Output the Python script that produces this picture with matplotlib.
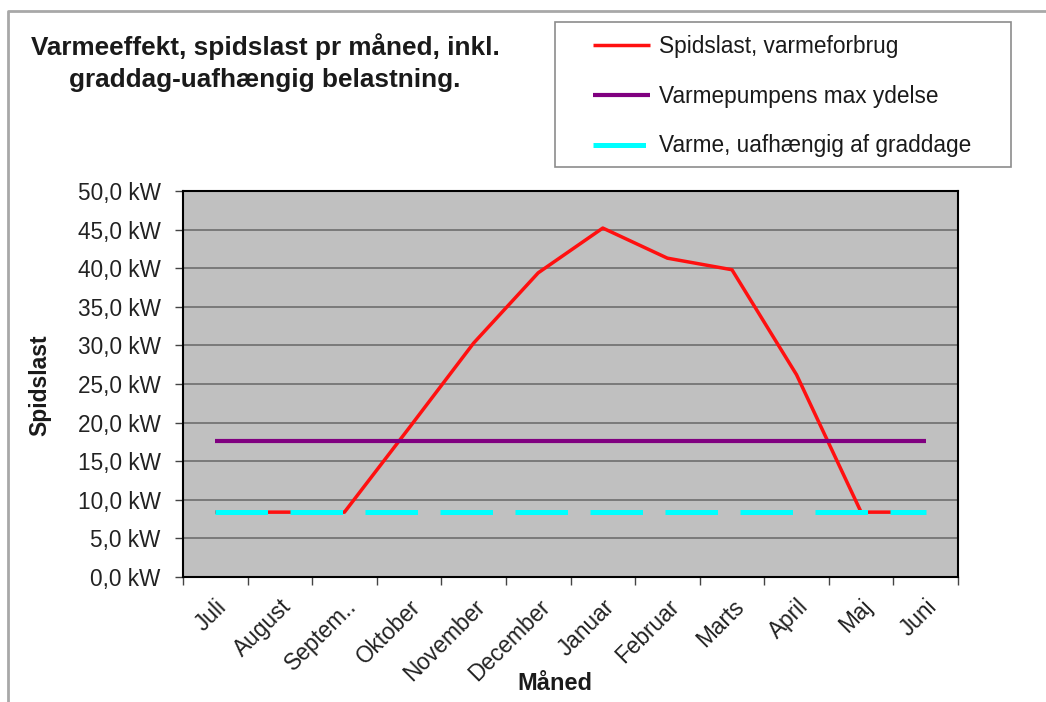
import matplotlib
matplotlib.use("Agg")
import matplotlib.pyplot as plt
from matplotlib.patches import Rectangle
from matplotlib.lines import Line2D
import numpy as np

plt.rcParams['font.family'] = ['Liberation Sans', 'DejaVu Sans']

months = ["Juli", "August", "Septem..", "Oktober", "November", "December",
          "Januar", "Februar", "Marts", "April", "Maj", "Juni"]
spidslast = [8.4, 8.4, 8.4, 19.3, 30.3, 39.4, 45.2, 41.3, 39.8, 26.2, 8.4, 8.4]
varmepumpe = [17.6] * 12
uafhaengig = [8.4] * 12
yticks = np.arange(0, 50.1, 5)

W, H = 1046, 702
fig = plt.figure(figsize=(W / 100, H / 100), dpi=100)
fig.patch.set_facecolor('white')

def fx(px):
    return px / W

def fy(py):
    return 1 - py / H

ax = fig.add_axes([fx(183), fy(577), fx(958) - fx(183), fy(191) - fy(577)])
ax.set_facecolor('#c0c0c0')
x = np.arange(len(months))

l1, = ax.plot(x, spidslast, color='#ff1010', lw=2.5, zorder=3,
              solid_capstyle='butt', label="Spidslast, varmeforbrug")
l2, = ax.plot(x, varmepumpe, color='#800080', lw=3.0, zorder=4,
              solid_capstyle='butt', label="Varmepumpens max ydelse")
l3, = ax.plot(x, uafhaengig, color='#00ffff', lw=3.6, zorder=5,
              dashes=(10.5, 4.5), dash_capstyle='butt',
              label="Varme, uafhængig af graddage")

ax.set_xlim(-0.5, len(months) - 0.5)
ax.set_ylim(0, 50)
ax.set_yticks(yticks)
ax.set_yticklabels([f"{v:.1f}".replace('.', ',') + " kW" for v in yticks],
                   fontsize=16.3, color='#222222')
ax.grid(axis='y', color='#6e6e6e', lw=1.2)
ax.set_axisbelow(True)

ax.set_xticks(np.arange(-0.5, len(months), 1.0))
ax.set_xticklabels([])
ax.set_xticks(x, minor=True)
ax.set_xticklabels(months, minor=True, rotation=45, ha='right', va='top',
                   rotation_mode='anchor', fontsize=16.3, color='#222222')
ax.tick_params(axis='x', which='minor', length=0, pad=13)
ax.tick_params(axis='x', which='major', length=6, width=1, color='#444444')
ax.tick_params(axis='y', length=6, width=1, color='#444444', pad=10)

for s in ax.spines.values():
    s.set_color('black')
    s.set_linewidth(1.5)

fig.text(fx(40), fy(385), "Spidslast", rotation=90, fontsize=16.5,
         fontweight='bold', ha='center', va='center', color='#1a1a1a')
fig.text(fx(555), fy(683), "Måned", fontsize=17, fontweight='bold',
         ha='center', va='center', color='#1a1a1a')

fig.text(fx(265), fy(47), "Varmeeffekt, spidslast pr måned, inkl.",
         fontsize=18.8, fontweight='bold', ha='center', va='center', color='#1a1a1a')
fig.text(fx(265), fy(80), "graddag-uafhængig belastning.",
         fontsize=18.8, fontweight='bold', ha='center', va='center', color='#1a1a1a')

# legend
fig.patches.append(Rectangle((fx(555), fy(167)), fx(1011) - fx(555), fy(22) - fy(167),
                             transform=fig.transFigure, fill=False,
                             edgecolor='#8c8c8c', lw=1.2))
leg = fig.legend(handles=[l1, l2, l3], loc='upper left',
                 bbox_to_anchor=(fx(593), fy(35)), frameon=False,
                 fontsize=16.3, borderpad=0, borderaxespad=0,
                 handlelength=2.5, handletextpad=0.4, labelspacing=1.18)
for t in leg.get_texts():
    t.set_color('#1a1a1a')

# outer frame
fig.lines.append(Line2D([fx(8), fx(8), 1.0], [0.0, fy(11), fy(11)],
                        transform=fig.transFigure, color='#a8a8a8', lw=2))

fig.savefig("out.png", dpi=100)
